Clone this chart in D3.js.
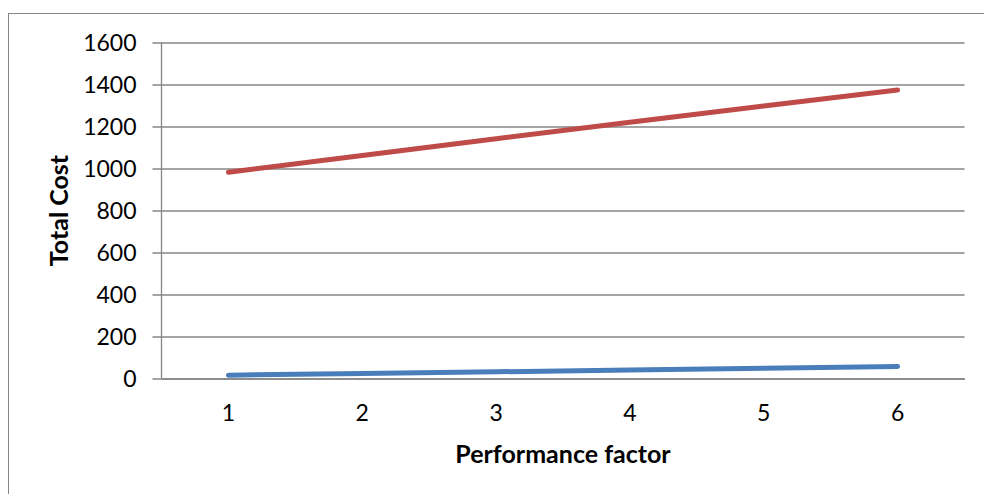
<!DOCTYPE html>
<html>
<head>
<meta charset="utf-8">
<script src="https://cdn.jsdelivr.net/npm/d3@7"></script>
<style>
  html, body { margin: 0; padding: 0; background: #fff; }
  svg { display: block; }
  text { font-family: Lato, "Open Sans", sans-serif; fill: #000; }
</style>
</head>
<body>
<svg id="chart" width="984" height="494"></svg>
<script>
// Performance factor on the category axis
const categories = [1, 2, 3, 4, 5, 6];
// Total cost series
const seriesUpper = [982, 1062, 1142, 1220, 1298, 1374];
const seriesLower = [16, 24, 32, 40, 49, 57];
// Value axis ticks
const yTicks = [0, 200, 400, 600, 800, 1000, 1200, 1400, 1600];

const svg = d3.select("#chart");
const margin = { left: 161.5, top: 42.5, right: 19.5, bottom: 115.5 };
const W = 984, H = 494;
const innerW = W - margin.left - margin.right;
const innerH = H - margin.top - margin.bottom;

// Outer chart frame
svg.append("rect")
  .attr("x", 8.5).attr("y", 13.5)
  .attr("width", 1000).attr("height", 600)
  .attr("fill", "none").attr("stroke", "#868686").attr("stroke-width", 1);

const g = svg.append("g").attr("transform", `translate(${margin.left},${margin.top})`);

const x = d3.scaleBand().domain(categories).range([0, innerW]);
const y = d3.scaleLinear().domain([0, 1600]).range([innerH, 0]);

// Horizontal gridlines with outside tick marks
const yAxis = g.append("g")
  .call(d3.axisLeft(y).tickValues(yTicks).tickFormat(d3.format("d"))
    .tickSize(-innerW).tickSizeOuter(0));
yAxis.select(".domain").remove();
yAxis.selectAll(".tick line")
  .attr("x1", -9)
  .attr("stroke", "#868686").attr("stroke-width", 1.3);
yAxis.selectAll(".tick text")
  .style("font-size", "23px").attr("x", -25).attr("dy", "0.36em");

// Vertical value axis line
g.append("line")
  .attr("x1", 0).attr("x2", 0).attr("y1", 0).attr("y2", innerH)
  .attr("stroke", "#868686").attr("stroke-width", 1.3);

// Category axis
const xAxis = g.append("g")
  .attr("transform", `translate(0,${innerH})`)
  .call(d3.axisBottom(x).tickSize(0).tickPadding(26));
xAxis.select(".domain").attr("stroke", "#868686").attr("stroke-width", 1.3);
xAxis.selectAll(".tick text").style("font-size", "23px");

// Series lines
const line = d3.line()
  .x((d, i) => x(categories[i]) + x.bandwidth() / 2)
  .y(d => y(d));

[[seriesLower, "#4A7EBB"], [seriesUpper, "#BE4B48"]].forEach(([data, color]) => {
  g.append("path")
    .datum(data)
    .attr("d", line)
    .attr("fill", "none")
    .attr("stroke", color)
    .attr("stroke-width", 5)
    .attr("stroke-linecap", "round")
    .attr("stroke-linejoin", "round");
});

// Axis titles
svg.append("text")
  .attr("x", margin.left + innerW / 2).attr("y", 463)
  .attr("text-anchor", "middle")
  .style("font-size", "25px").style("font-weight", "bold")
  .text("Performance factor");

svg.append("text")
  .attr("transform", `translate(68,${margin.top + innerH / 2}) rotate(-90)`)
  .attr("text-anchor", "middle")
  .style("font-size", "25px").style("font-weight", "bold")
  .text("Total Cost");
</script>
</body>
</html>
